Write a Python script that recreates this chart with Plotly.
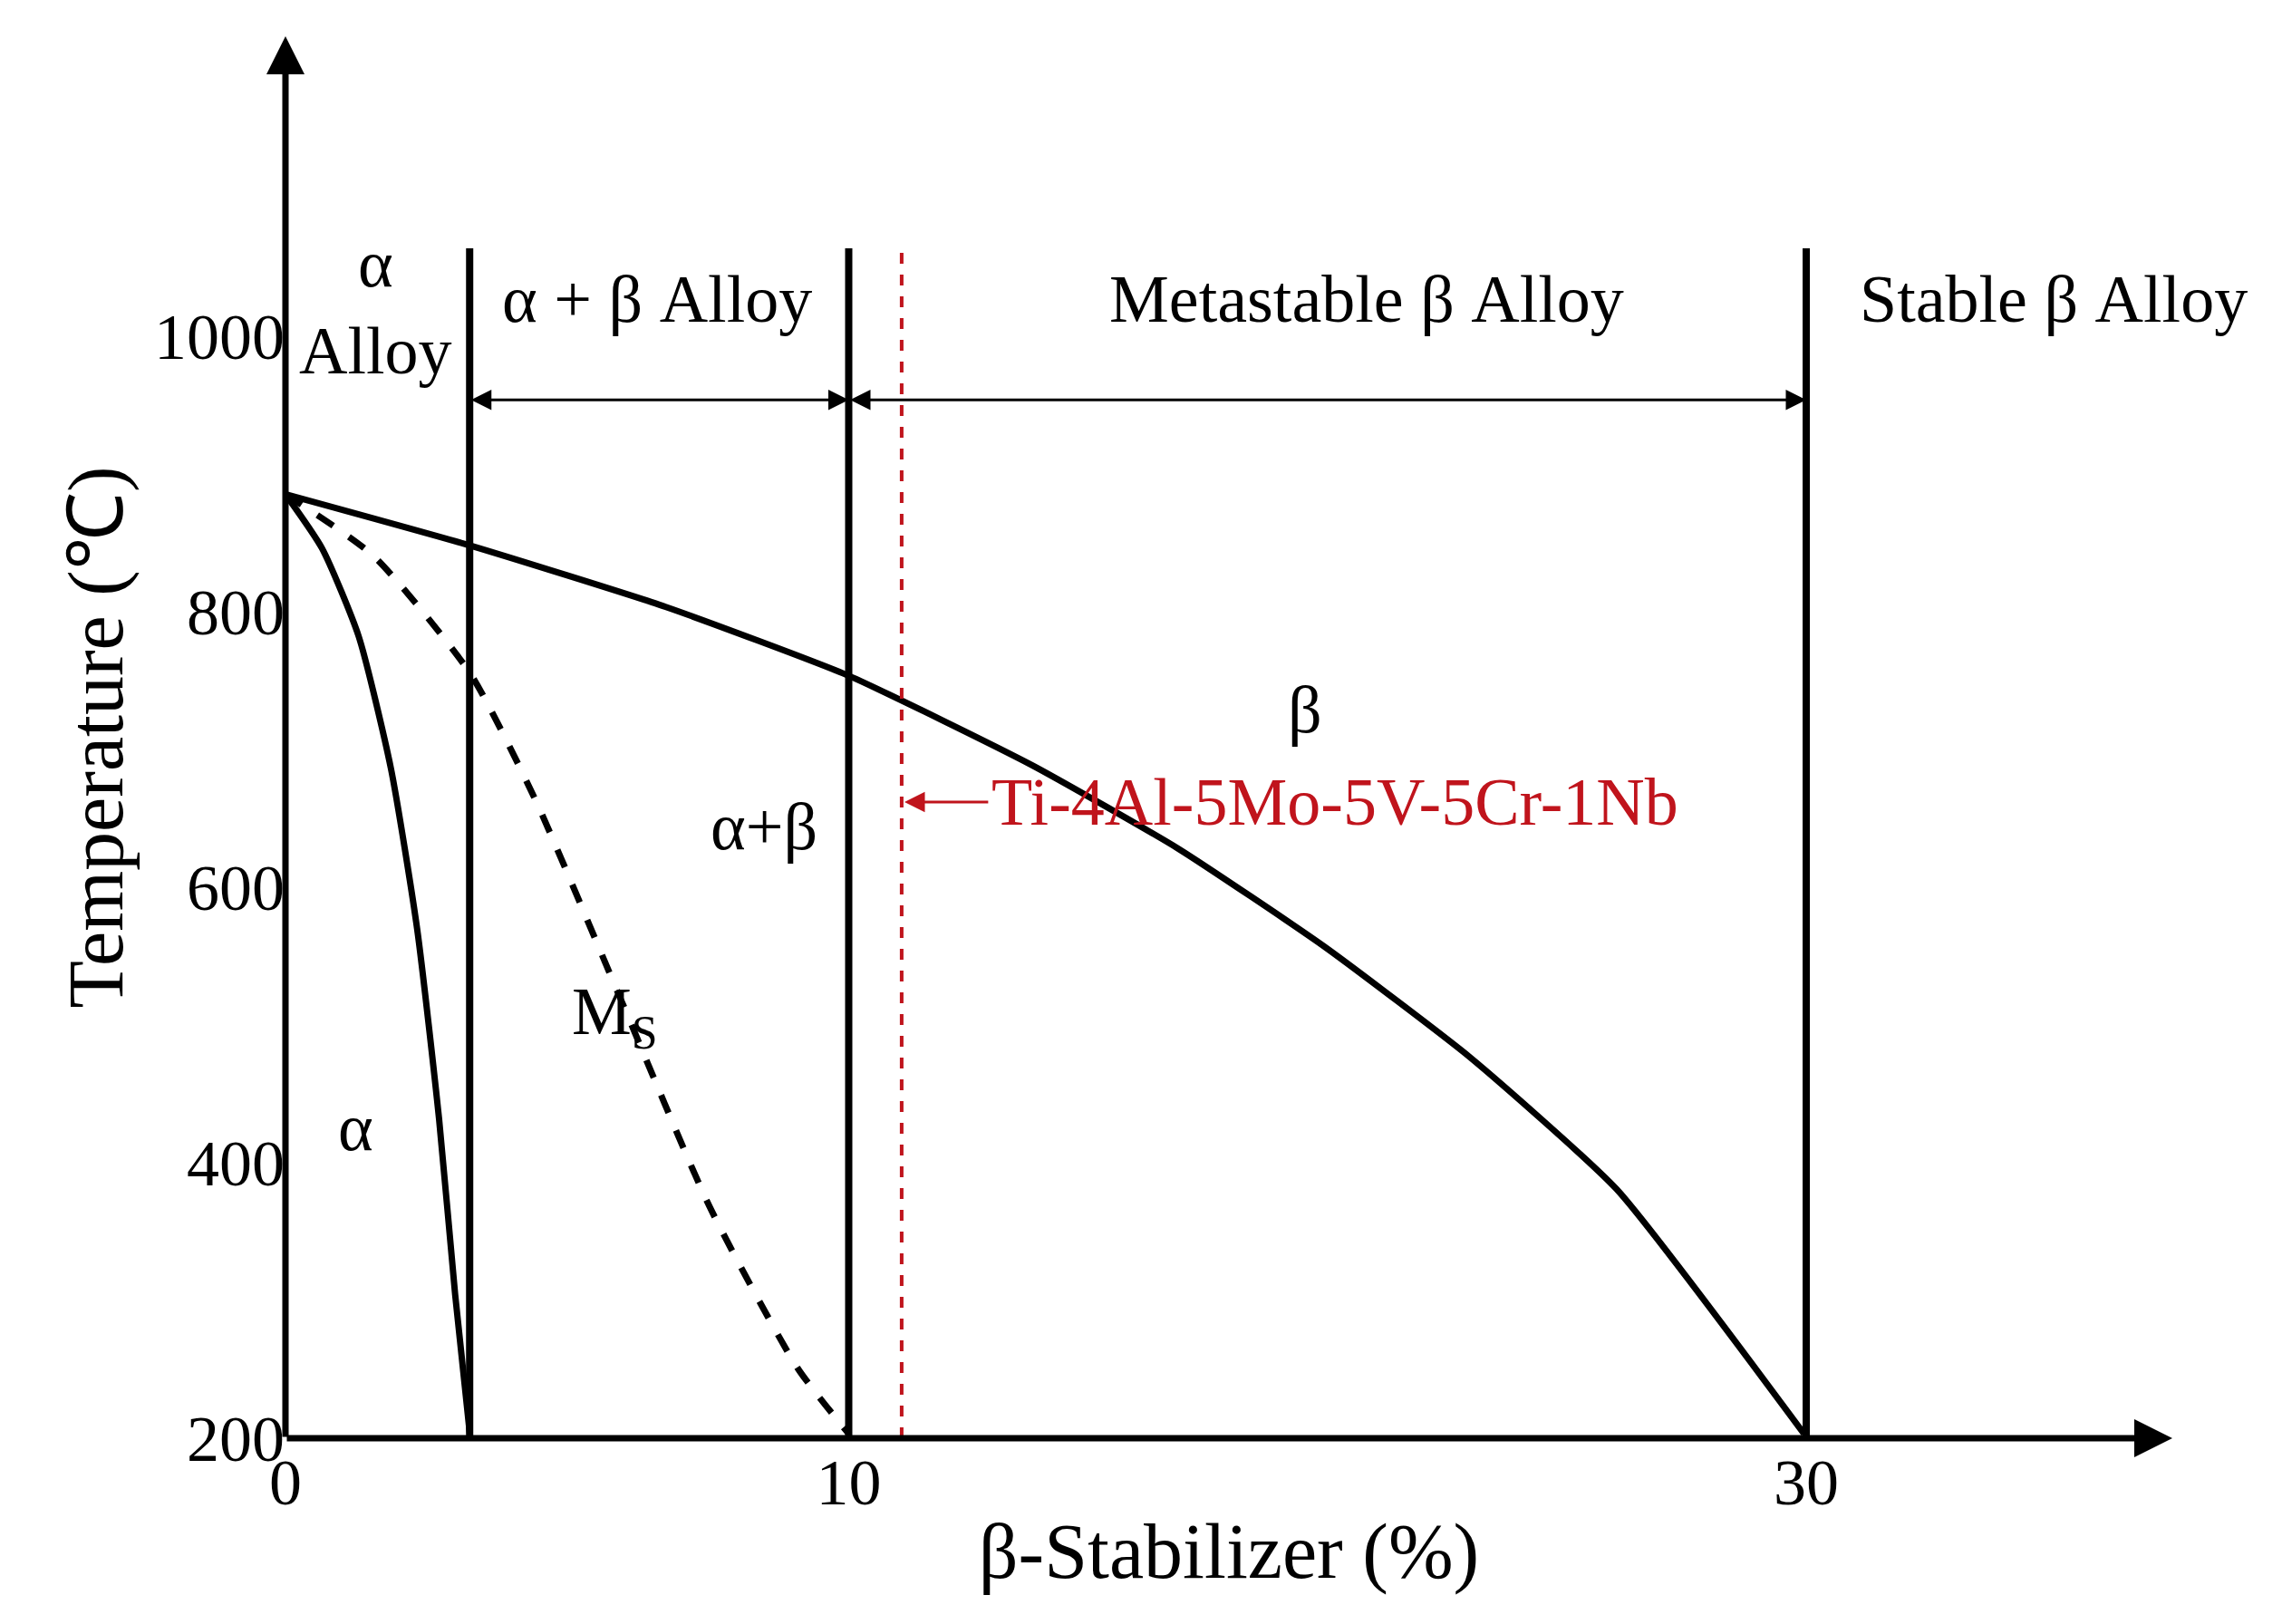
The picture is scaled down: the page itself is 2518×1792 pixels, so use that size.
import plotly.graph_objects as go

PX_PER_X = 38.5; X0 = 190
PX_PER_T = 0.941; Y0 = 978
def cx(p): return [(v - X0) / PX_PER_X for v in p]
def cy(p): return [200 + (Y0 - v) / PX_PER_T for v in p]

# schematic curves (pixel estimates)
transus_px = [190, 316, 450, 575, 700, 800, 900, 1000, 1100, 1228]
transus_py = [333, 368, 410, 457, 518, 575, 642, 718, 808, 975]
alpha_px = [190, 215, 240, 262, 280, 295, 306, 316]
alpha_py = [333, 370, 430, 520, 630, 760, 880, 975]
ms_px = [190, 250, 316, 360, 420, 480, 540, 575]
ms_py = [333, 375, 455, 540, 680, 820, 930, 975]

x_tickvals = [0, 10, 27.0]
x_ticktext = ["0", "10", "30"]
y_tickvals = [200, 400, 600, 800, 1000]
boundaries = [3.27, 10, 27.0]
alloy_x = 10.94
top_T = 1064

fnt = "Liberation Serif, Times New Roman, serif"
fig = go.Figure()
ln = dict(color="black", width=8)
fig.add_trace(go.Scatter(x=cx(transus_px), y=cy(transus_py), mode="lines", line=dict(color="black", width=7, shape="spline", smoothing=0.5)))
fig.add_trace(go.Scatter(x=cx(alpha_px), y=cy(alpha_py), mode="lines", line=dict(color="black", width=7, shape="spline", smoothing=0.6)))
fig.add_trace(go.Scatter(x=cx(ms_px), y=cy(ms_py), mode="lines", line=dict(color="black", width=7, dash="dash", shape="spline", smoothing=0.6)))
for b in boundaries:
    fig.add_trace(go.Scatter(x=[b, b], y=[200, top_T], mode="lines", line=ln))
fig.add_trace(go.Scatter(x=[alloy_x, alloy_x], y=[200, top_T], mode="lines", line=dict(color="#c0141c", width=4, dash="dash")))

def txt(x, y, s, size=74, color="black", xanchor="center"):
    fig.add_annotation(x=x, y=y, text=s, showarrow=False, xanchor=xanchor,
                       font=dict(family=fnt, size=size, color=color))
txt(1.6, 1021, "α<br>Alloy")
txt(6.6, 1027, "α + β Alloy")
txt(19.2, 1027, "Metastable β Alloy")
txt(31.4, 1027, "Stable β Alloy")
txt(18.1, 729, "β")
txt(8.5, 644, "α+β")
txt(5.85, 506, "M<sub>S</sub>")
txt(1.25, 426, "α")
txt(12.5, 662, "Ti-4Al-5Mo-5V-5Cr-1Nb", color="#c0141c", xanchor="left")

def arrow(x0, y0, x1, y1, side="end", color="black", w=3, size=1.5):
    fig.add_annotation(x=x1, y=y1, ax=x0, ay=y0, xref="x", yref="y", axref="x", ayref="y",
                       text="", showarrow=True, arrowhead=2, arrowside=side,
                       arrowsize=size, arrowwidth=w, arrowcolor=color)
arrow(boundaries[0], 954, boundaries[1], 954, side="end+start")
arrow(boundaries[1], 954, boundaries[2], 954, side="end+start")
arrow(12.5, 662, alloy_x + 0.05, 662, color="#c0141c")
# axes with arrows
arrow(0, 200, 33.5, 200, w=7, size=1.2)
arrow(0, 200, 0, 1218, w=7, size=1.2)

fig.update_layout(
    width=2518, height=1792, plot_bgcolor="white", paper_bgcolor="white",
    showlegend=False, margin=dict(l=307, r=129, t=32, b=213),
    font=dict(family=fnt, size=72, color="black"),
    xaxis=dict(range=[0, 33.5], showgrid=False, zeroline=False, tickvals=x_tickvals,
               ticktext=x_ticktext, ticks="", title=dict(text="β-Stabilizer (%)", font=dict(size=86), standoff=5)),
    yaxis=dict(range=[200, 1218], showgrid=False, zeroline=False, tickvals=y_tickvals,
               ticks="", title=dict(text="Temperature (℃)", font=dict(size=86), standoff=5)),
)
fig.write_html("out.html")
